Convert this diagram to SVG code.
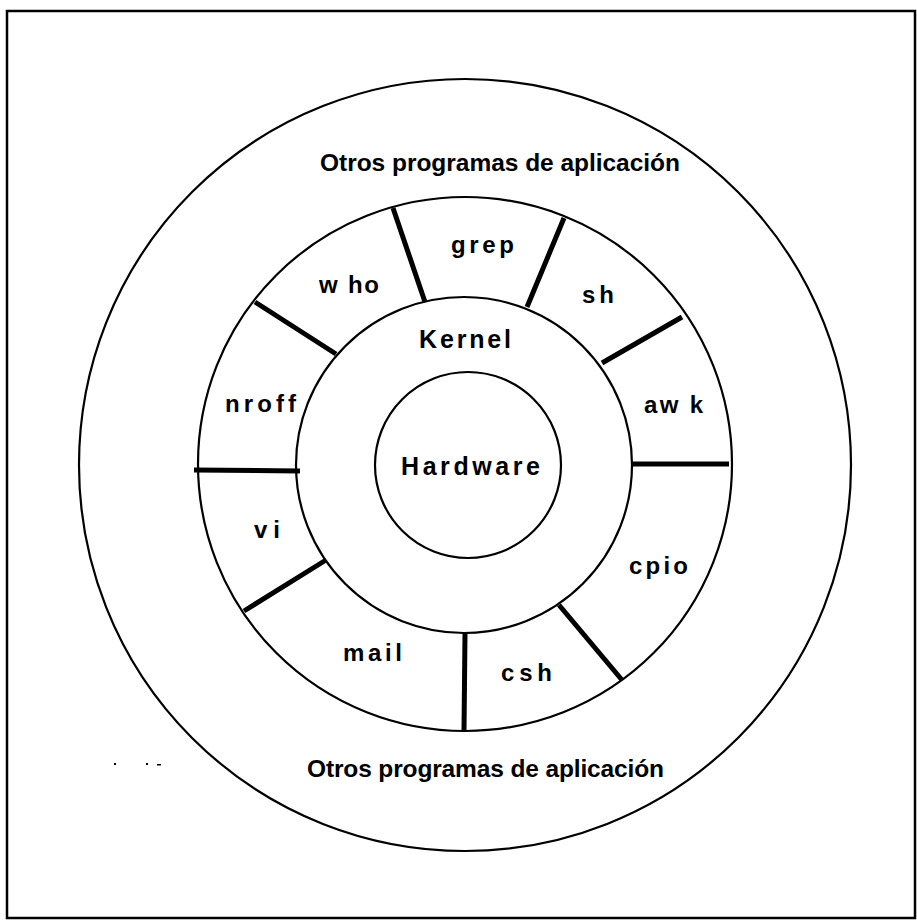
<svg xmlns="http://www.w3.org/2000/svg" width="917" height="920" viewBox="0 0 917 920">
  <style>
    .ring { fill: none; stroke: #000; stroke-width: 2.2; }
    .div { stroke: #000; stroke-width: 5; stroke-linecap: butt; }
    .lbl { font-family: "Liberation Sans", Arial, Helvetica, sans-serif; font-weight: bold; font-size: 24px; fill: #000; }
    .big { font-size: 24.5px; }
  </style>
  <rect x="0" y="0" width="917" height="920" fill="#fff"/>
  <rect x="7" y="11" width="908" height="907" fill="none" stroke="#000" stroke-width="2.5"/>

  <g id="outer-ring">
    <circle class="ring" cx="465" cy="465" r="386"/>
    <text class="lbl big" x="320" y="171" textLength="360" lengthAdjust="spacing">Otros programas de aplicación</text>
    <text class="lbl big" x="307" y="777" textLength="357" lengthAdjust="spacing">Otros programas de aplicación</text>
  </g>

  <g id="apps-ring">
    <circle class="ring" cx="465" cy="464" r="267"/>
  </g>

  <g id="kernel">
    <circle class="ring" cx="464" cy="465" r="168"/>
    <text class="lbl" x="419" y="348" textLength="92" lengthAdjust="spacing" style="font-size:25px">Kernel</text>
  </g>

  <g id="hardware">
    <circle class="ring" cx="468" cy="465" r="93"/>
    <text class="lbl" x="401" y="475" textLength="139" lengthAdjust="spacing" style="font-size:25px">Hardware</text>
  </g>

  <g id="connectors">
    <line class="div" x1="393" y1="208" x2="425" y2="302"/>
    <line class="div" x1="564" y1="218" x2="527" y2="307"/>
    <line class="div" x1="682" y1="317" x2="602" y2="363"/>
    <line class="div" x1="633" y1="464" x2="729" y2="464"/>
    <line class="div" x1="559" y1="605" x2="622" y2="680"/>
    <line class="div" x1="465" y1="634" x2="464" y2="731"/>
    <line class="div" x1="326" y1="560" x2="244" y2="611"/>
    <line class="div" x1="194" y1="470" x2="300" y2="471"/>
    <line class="div" x1="255" y1="302" x2="336" y2="354"/>
  </g>

  <g id="who"><text class="lbl" x="319" y="293" textLength="60" lengthAdjust="spacing">w ho</text></g>
  <g id="grep"><text class="lbl" x="451" y="253" textLength="63" lengthAdjust="spacing">grep</text></g>
  <g id="sh"><text class="lbl" x="582" y="303" textLength="32" lengthAdjust="spacing">sh</text></g>
  <g id="awk"><text class="lbl" x="644" y="413" textLength="59" lengthAdjust="spacing">aw k</text></g>
  <g id="cpio"><text class="lbl" x="629" y="574" textLength="59" lengthAdjust="spacing">cpio</text></g>
  <g id="csh"><text class="lbl" x="501" y="681" textLength="51" lengthAdjust="spacing">csh</text></g>
  <g id="mail"><text class="lbl" x="343" y="661" textLength="59" lengthAdjust="spacing">mail</text></g>
  <g id="vi"><text class="lbl" x="254" y="538" textLength="26" lengthAdjust="spacing">vi</text></g>
  <g id="nroff"><text class="lbl" x="225" y="412" textLength="71" lengthAdjust="spacing">nroff</text></g>

  <g id="specks" fill="#000">
    <rect x="114" y="763" width="2" height="2"/>
    <rect x="146" y="763" width="2" height="2"/>
    <rect x="157" y="764" width="4" height="1.5"/>
  </g>
</svg>
